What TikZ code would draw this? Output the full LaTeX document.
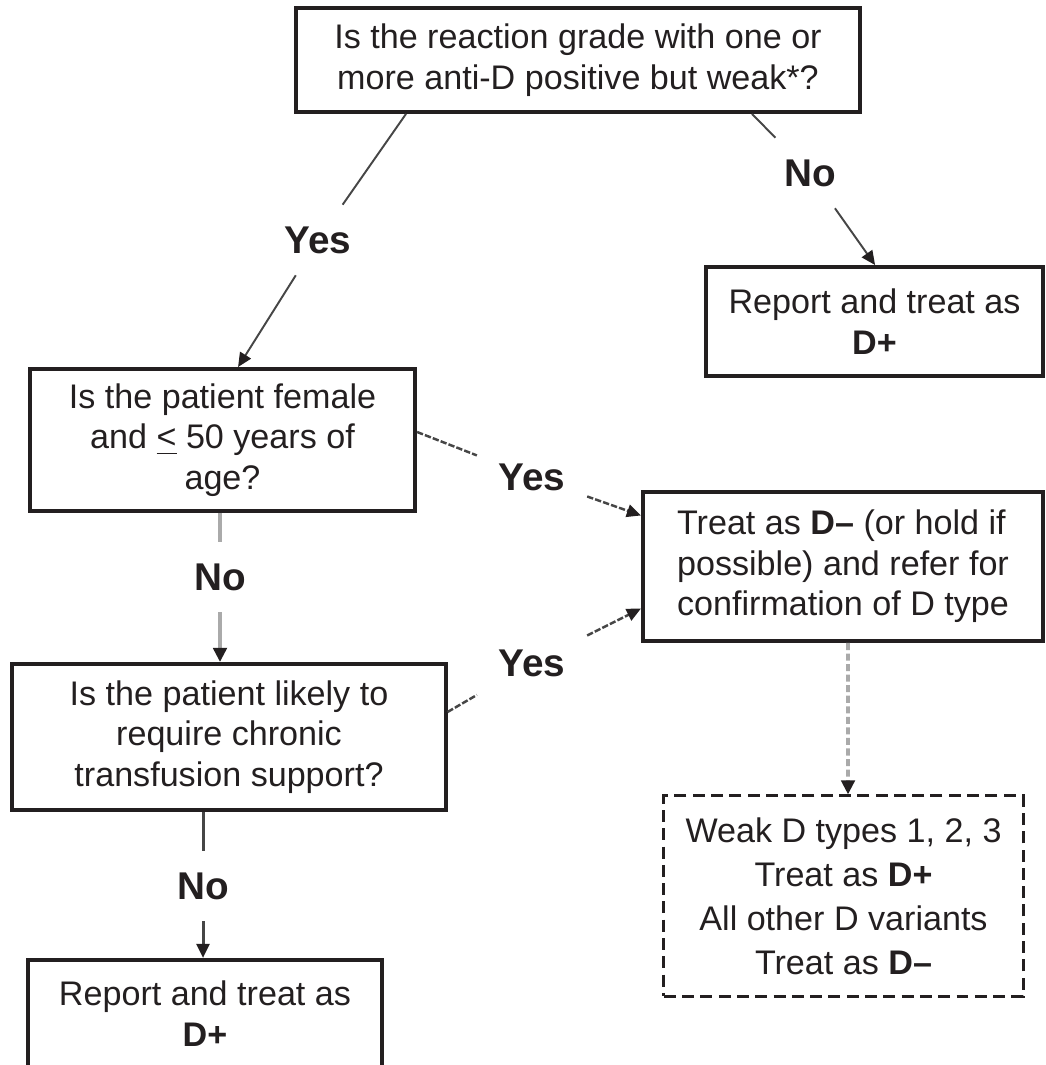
\documentclass[tikz,border=0pt]{standalone}
\usepackage{fontspec}
\setmainfont{Liberation Sans}
\usetikzlibrary{arrows.meta,positioning,calc}
\definecolor{txtblack}{RGB}{35,31,32}
\definecolor{linedark}{RGB}{70,70,70}
\definecolor{linegray}{RGB}{170,170,170}

\begin{document}
\begin{tikzpicture}[x=0.01cm, y=-0.01cm,
      box/.style={draw=txtblack, line width=1.1pt, align=center, text=txtblack,
        font=\fontsize{9.7}{11.5}\selectfont, inner sep=0pt},
      dbox/.style={box, line width=0.85pt, dash pattern=on 3.4pt off 1.8pt},
      lbl/.style={font=\fontsize{11}{13}\selectfont\bfseries, text=txtblack, inner sep=6pt},
      conn/.style={draw=linedark, line width=0.55pt},
      arr/.style={conn, -{Triangle[length=4pt, width=3.6pt, color=txtblack]}},
      dconn/.style={conn, line width=0.7pt, dash pattern=on 1.8pt off 0.6pt},
      darr/.style={dconn, -{Triangle[length=4pt, width=3.6pt, color=txtblack]}},
      gconn/.style={draw=linegray, line width=1.4pt},
      garr/.style={gconn, -{Triangle[length=4pt, width=3.8pt, color=txtblack]}}
    ]
      \useasboundingbox (0,0) rectangle (1045,1065);

      % boxes
      \node[box, minimum width=5.64cm, minimum height=1.04cm] (top) at (578,60)
        {Is the reaction grade with one or\\more anti-D positive but weak*?};
      \node[box, minimum width=3.37cm, minimum height=1.09cm] (rep1) at (874.5,321.5)
        {Report and treat as\\\textbf{D+}};
      \node[box, minimum width=3.85cm, minimum height=1.42cm] (female) at (222.5,440)
        {Is the patient female\\and \underline{<} 50 years of\\age?};
      \node[box, align=left, minimum width=4cm, minimum height=1.49cm] (treat) at (843,566.5)
        {Treat as \textbf{D--} (or hold if\\possible) and refer for\\confirmation of D type};
      \node[box, minimum width=4.33cm, minimum height=1.46cm] (chronic) at (229,737)
        {Is the patient likely to\\require chronic\\transfusion support?};
      \node[dbox, font=\fontsize{9.7}{12.5}\selectfont, minimum width=3.59cm, minimum height=2cm] (weak) at (843.5,896)
        {Weak D types 1, 2, 3\\Treat as \textbf{D+}\\All other D variants\\Treat as \textbf{D--}};
      \node[box, anchor=north, minimum width=3.54cm, inner ysep=6pt] (rep2) at (205,958)
        {Report and treat as\\\textbf{D+}\rule[-30pt]{0pt}{0pt}};

      % answers
      \node[lbl] (yes1) at (318,240) {Yes};
      \node[lbl] (no1) at (810,173) {No};
      \node[lbl] (yes2) at (532,477) {Yes};
      \node[lbl] (no2) at (220,577) {No};
      \node[lbl] (yes3) at (532,663) {Yes};
      \node[lbl] (no3) at (203,886) {No};

      % connectors
      \draw[conn] ([xshift=1.12cm]top.south west) -- (yes1);
      \draw[arr] (yes1) -- ([xshift=2.1cm]female.north west);
      \draw[conn] ([xshift=-1.1cm]top.south east) -- (no1);
      \draw[arr] (no1) -- ([xshift=1.71cm]rep1.north west);
      \draw[dconn] ([yshift=0.08cm]female.east) -- (yes2);
      \draw[darr] (yes2) -- ([yshift=0.51cm]treat.west);
      \draw[gconn] (no2 |- female.south) -- (no2);
      \draw[garr] (no2) -- (no2 |- chronic.north);
      \draw[dconn] ([yshift=0.25cm]chronic.east) -- (yes3);
      \draw[darr] (yes3) -- ([yshift=-0.42cm]treat.west);
      \draw[conn, line width=0.85pt] (no3 |- chronic.south) -- (no3);
      \draw[arr, line width=0.85pt] (no3) -- (no3 |- rep2.north);
      \draw[gconn, line width=1.1pt, dash pattern=on 2pt off 1pt,
        -{Triangle[length=4pt, width=3.8pt, color=txtblack]}]
        ([xshift=0.05cm]treat.south) -- ([xshift=0.045cm]weak.north);
    \end{tikzpicture}
\end{document}
